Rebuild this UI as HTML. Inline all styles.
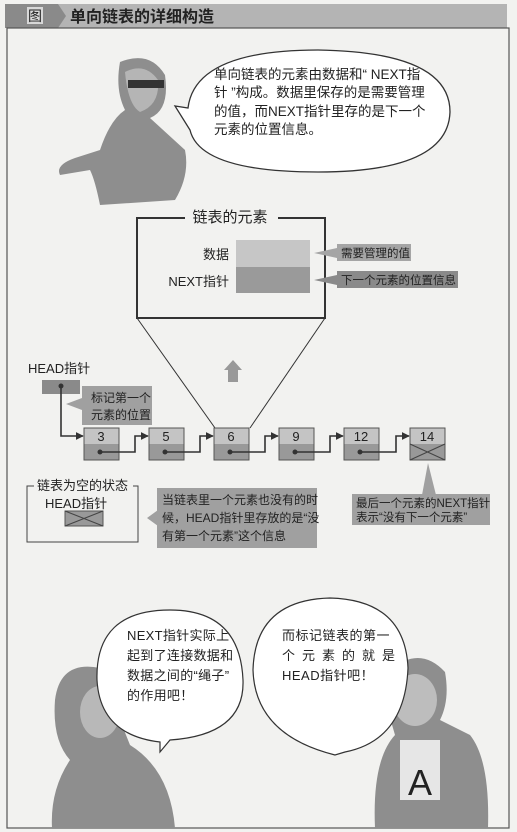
<!DOCTYPE html>
<html><head><meta charset="utf-8"><style>
html,body{margin:0;padding:0;background:#f2f2f0;}
svg{display:block;}
text{font-family:"Liberation Sans","Noto Sans CJK SC",sans-serif;fill:#222;}
</style></head><body>
<svg width="517" height="832" viewBox="0 0 517 832" xmlns="http://www.w3.org/2000/svg">
<defs>
<marker id="ar" viewBox="0 0 10 10" refX="9" refY="5" markerWidth="5" markerHeight="5" orient="auto"><path d="M0,0L10,5L0,10z" fill="#333"/></marker>
</defs>
<rect width="517" height="832" fill="#f2f2f0"/>
<!-- header -->
<rect x="5" y="4" width="502" height="24" fill="#b4b4b4"/>
<polygon points="5,4 58,4 66,16 58,28 5,28" fill="#8a8a8a"/>
<rect x="27" y="7" width="16" height="17" fill="#d8d8d8"/>
<text x="35" y="21" font-size="14" text-anchor="middle" fill="#555">图</text>
<text x="70" y="22" font-size="16" font-weight="bold" fill="#333">单向链表的详细构造</text>
<!-- frame -->
<rect x="7" y="28" width="502" height="800" fill="none" stroke="#555" stroke-width="1.2"/>

<!-- man -->
<path d="M120,62 Q150,50 165,75 Q170,110 150,118 L185,150 Q190,175 175,200 L100,205 Q95,180 90,170 L60,175 Q55,165 75,158 L100,150 Q110,120 125,110 Q115,90 120,62z" fill="#8e8e8e"/>
<path d="M125,72 Q145,62 158,80 Q160,105 140,112 Q128,105 125,72z" fill="#b5b5b5"/>
<rect x="128" y="80" width="36" height="8" fill="#333"/>
<!-- bubble 1 -->
<path d="M188,108 Q195,50 318,50 Q450,52 450,112 Q448,172 318,172 Q200,172 190,130 L175,106z" fill="#fff" stroke="#333" stroke-width="1.3"/>
<text font-size="13.5"><tspan x="214" y="79">单向链表的元素由数据和“ NEXT指</tspan><tspan x="214" y="97">针 ”构成。数据里保存的是需要管理</tspan><tspan x="214" y="116">的值，而NEXT指针里存的是下一个</tspan><tspan x="214" y="134">元素的位置信息。</tspan></text>

<!-- element box -->
<polyline points="185,218 137,218 137,318 325,318 325,218 278,218" fill="none" stroke="#333" stroke-width="2"/>
<text x="230" y="222" font-size="15" text-anchor="middle">链表的元素</text>
<rect x="236" y="240" width="74" height="27" fill="#c6c6c6"/>
<rect x="236" y="267" width="74" height="26" fill="#9a9a9a"/>
<text x="229" y="259" font-size="13" text-anchor="end">数据</text>
<text x="229" y="286" font-size="13" text-anchor="end">NEXT指针</text>
<polygon points="314,253 337,248 337,258" fill="#a5a5a5"/>
<rect x="337" y="244" width="74" height="17" fill="#a5a5a5"/>
<text x="341" y="257" font-size="11.5">需要管理的值</text>
<polygon points="314,280 337,275 337,285" fill="#8a8a8a"/>
<rect x="337" y="271" width="121" height="17" fill="#8a8a8a"/>
<text x="341" y="284" font-size="11.5">下一个元素的位置信息</text>
<!-- triangle -->
<line x1="137" y1="318" x2="215" y2="428" stroke="#333" stroke-width="1"/>
<line x1="325" y1="318" x2="250" y2="428" stroke="#333" stroke-width="1"/>
<polygon points="233,360 242,370 238,370 238,382 228,382 228,370 224,370" fill="#999"/>

<!-- HEAD -->
<text x="28" y="373" font-size="13">HEAD指针</text>
<rect x="42" y="380" width="38" height="14" fill="#8a8a8a"/>
<polygon points="66,404 82,398 82,410" fill="#a0a0a0"/>
<rect x="82" y="386" width="70" height="39" fill="#a0a0a0"/>
<text font-size="12"><tspan x="91" y="402">标记第一个</tspan><tspan x="91" y="419">元素的位置</tspan></text>
<path d="M61,386 L61,436 L83,436" fill="none" stroke="#333" stroke-width="1.6" marker-end="url(#ar)"/>
<circle cx="61" cy="386" r="2.5" fill="#333"/>

<!-- nodes -->
<g font-size="13" text-anchor="middle">
<g><rect x="84" y="428" width="35" height="16" fill="#c4c4c4"/><rect x="84" y="444" width="35" height="16" fill="#999"/><rect x="84" y="428" width="35" height="32" fill="none" stroke="#555"/><text x="101" y="441">3</text></g>
<g><rect x="149" y="428" width="35" height="16" fill="#c4c4c4"/><rect x="149" y="444" width="35" height="16" fill="#999"/><rect x="149" y="428" width="35" height="32" fill="none" stroke="#555"/><text x="166" y="441">5</text></g>
<g><rect x="214" y="428" width="35" height="16" fill="#c4c4c4"/><rect x="214" y="444" width="35" height="16" fill="#999"/><rect x="214" y="428" width="35" height="32" fill="none" stroke="#555"/><text x="231" y="441">6</text></g>
<g><rect x="279" y="428" width="35" height="16" fill="#c4c4c4"/><rect x="279" y="444" width="35" height="16" fill="#999"/><rect x="279" y="428" width="35" height="32" fill="none" stroke="#555"/><text x="296" y="441">9</text></g>
<g><rect x="344" y="428" width="35" height="16" fill="#c4c4c4"/><rect x="344" y="444" width="35" height="16" fill="#999"/><rect x="344" y="428" width="35" height="32" fill="none" stroke="#555"/><text x="361" y="441">12</text></g>
<g><rect x="410" y="428" width="35" height="16" fill="#c4c4c4"/><rect x="410" y="444" width="35" height="16" fill="#999"/><rect x="410" y="428" width="35" height="32" fill="none" stroke="#555"/><text x="427" y="441">14</text>
<path d="M410,444 L445,460 M445,444 L410,460" stroke="#444"/></g>
</g>
<g fill="none" stroke="#333" stroke-width="1.6" marker-end="url(#ar)">
<path d="M100,452 L135,452 L135,436 L148,436"/>
<path d="M165,452 L200,452 L200,436 L213,436"/>
<path d="M230,452 L265,452 L265,436 L278,436"/>
<path d="M295,452 L330,452 L330,436 L343,436"/>
<path d="M360,452 L396,452 L396,436 L409,436"/>
</g>
<g fill="#333"><circle cx="100" cy="452" r="2.5"/><circle cx="165" cy="452" r="2.5"/><circle cx="230" cy="452" r="2.5"/><circle cx="295" cy="452" r="2.5"/><circle cx="360" cy="452" r="2.5"/></g>

<!-- empty list -->
<polyline points="34,486 27,486 27,542 138,542 138,486 133,486" fill="none" stroke="#444" stroke-width="1"/>
<text x="37" y="490" font-size="13">链表为空的状态</text>
<text x="45" y="508" font-size="13">HEAD指针</text>
<rect x="65" y="511" width="38" height="15" fill="#999" stroke="#555"/>
<path d="M65,511 L103,526 M103,511 L65,526" stroke="#444"/>
<polygon points="147,518 158,510 158,526" fill="#a0a0a0"/>
<rect x="157" y="488" width="160" height="60" fill="#a0a0a0"/>
<text font-size="12"><tspan x="162" y="504">当链表里一个元素也没有的时</tspan><tspan x="162" y="522">候，HEAD指针里存放的是“没</tspan><tspan x="162" y="540">有第一个元素”这个信息</tspan></text>
<polygon points="428,463 422,495 436,495" fill="#a0a0a0"/>
<rect x="352" y="494" width="138" height="31" fill="#a0a0a0"/>
<text font-size="11.5"><tspan x="356" y="507">最后一个元素的NEXT指针</tspan><tspan x="356" y="521">表示“没有下一个元素”</tspan></text>

<!-- girl -->
<path d="M55,700 Q60,660 100,668 Q125,680 120,720 L130,745 Q170,770 175,828 L52,828 Q50,790 70,760 Q52,740 55,700z" fill="#8e8e8e"/>
<ellipse cx="100" cy="712" rx="20" ry="26" fill="#b8b8b8"/>
<!-- boy -->
<path d="M390,670 Q420,645 445,672 Q450,700 440,720 L470,735 Q490,760 488,828 L375,828 Q372,760 395,735 Q385,705 390,670z" fill="#8e8e8e"/>
<ellipse cx="415" cy="700" rx="22" ry="26" fill="#bdbdbd"/>
<path d="M400,740 L440,740 L440,800 L400,800z" fill="#e6e6e6"/>
<text x="420" y="795" font-size="36" text-anchor="middle" fill="#555">A</text>

<!-- bubble 2 -->
<path d="M170,740 Q245,735 243,680 Q240,610 170,610 Q95,610 97,680 Q100,735 160,742 L160,752z" fill="#fff" stroke="#333" stroke-width="1.2"/>
<text font-size="13" letter-spacing="0.3"><tspan x="127" y="640">NEXT指针实际上</tspan><tspan x="127" y="660">起到了连接数据和</tspan><tspan x="127" y="680">数据之间的“绳子”</tspan><tspan x="127" y="700">的作用吧！</tspan></text>
<!-- bubble 3 -->
<path d="M345,752 L335,755 Q255,735 253,670 Q255,600 330,598 Q405,600 408,668 Q405,740 345,752z" fill="#fff" stroke="#333" stroke-width="1.2"/>
<text font-size="13" letter-spacing="0.5"><tspan x="282" y="640">而标记链表的第一</tspan><tspan x="282" y="660" letter-spacing="7">个元素的就是</tspan><tspan x="282" y="680">HEAD指针吧！</tspan></text>
</svg>
</body></html>
